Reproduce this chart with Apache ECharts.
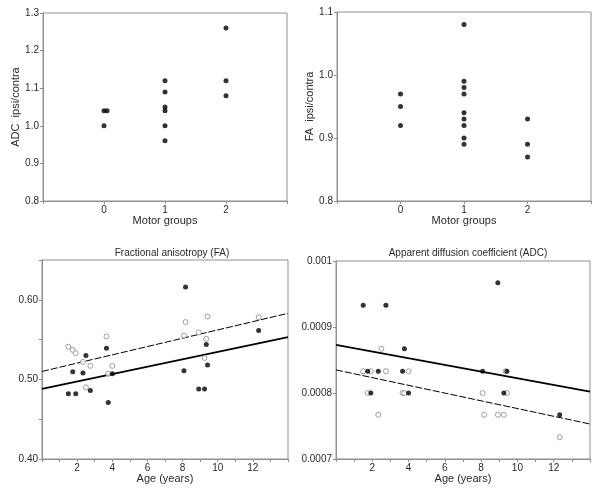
<!DOCTYPE html>
<html><head><meta charset="utf-8">
<script src="https://cdn.jsdelivr.net/npm/echarts@6/dist/echarts.min.js"></script>
<style>html,body{margin:0;padding:0;background:#fff}#c{width:600px;height:492px}</style>
</head><body><div id="c"></div>
<script>
// ---- Data ----
// Top-left: ADC ipsi/contra by motor group
const adcGroup0 = [1.04, 1.04, 1.00];
const adcGroup0Jitter = [0, 0.05, 0];
const adcGroup1 = [1.12, 1.09, 1.05, 1.04, 1.00, 0.96];
const adcGroup2 = [1.26, 1.12, 1.08];
// Top-right: FA ipsi/contra by motor group
const faGroup0 = [0.97, 0.95, 0.92];
const faGroup1 = [1.08, 0.99, 0.98, 0.97, 0.94, 0.93, 0.92, 0.90, 0.89];
const faGroup2 = [0.93, 0.89, 0.87];
const motorTicks = [0, 1, 2];

// Bottom: values vs age
const ages = [1.5, 1.75, 1.92, 2.33, 2.5, 2.75, 3.67, 3.77, 4.0, 8.08, 8.17, 8.92, 9.25, 9.35, 9.42, 12.33];
const faFilled = [0.482, 0.5095, 0.482, 0.508, 0.530, 0.486, 0.539, 0.471, 0.507, 0.511, 0.616, 0.488, 0.488, 0.544, 0.518, 0.5615];
const faOpen   = [0.541, 0.537, 0.533, 0.522, 0.490, 0.517, 0.554, 0.507, 0.517, 0.555, 0.572, 0.559, 0.527, 0.551, 0.579, 0.578];
const adcFilled = [0.000933, 0.000833, 0.0008, 0.000833, null, 0.000933, 0.000833, 0.000867, 0.0008, 0.000833, null, 0.000967, 0.0008, null, 0.000833, 0.000767];
const adcOpen   = [0.000833, 0.0008, 0.000833, 0.000767, 0.000867, 0.000833, 0.0008, 0.0008, 0.000833, 0.0008, 0.000767, 0.000767, 0.000767, 0.000833, 0.0008, 0.000733];
// Regression lines: [x, y] endpoints
const lineX = [0, 14];
const faFitFilled = [0.488, 0.553];
const faFitOpen   = [0.510, 0.583];
const adcFitFilled = [0.000873, 0.000802];
const adcFitOpen   = [0.000835, 0.000753];
const ageTicks = [2, 4, 6, 8, 10, 12];

// ---- Styles ----
const FONT = 'Liberation Sans';
const AX = '#909090';
const LBL = '#2a2a2a';

function xMotor(gi) {
  return {
    type: 'value', gridIndex: gi, min: -1, max: 3, interval: 1,
    name: 'Motor groups', nameLocation: 'middle', nameGap: 14,
    nameTextStyle: { fontFamily: FONT, fontSize: 11, color: LBL },
    axisLine: { onZero: false, lineStyle: { color: AX } },
    axisTick: { length: 3, lineStyle: { color: AX } },
    axisLabel: { fontFamily: FONT, fontSize: 10, color: LBL, margin: 4,
      formatter: v => motorTicks.indexOf(v) >= 0 ? String(v) : '' },
    splitLine: { show: false }
  };
}
function xAge(gi) {
  return {
    type: 'value', gridIndex: gi, min: 0, max: 14, interval: 1,
    name: 'Age (years)', nameLocation: 'middle', nameGap: 14,
    nameTextStyle: { fontFamily: FONT, fontSize: 11, color: LBL },
    axisLine: { onZero: false, lineStyle: { color: AX } },
    axisTick: { length: 3, lineStyle: { color: AX } },
    axisLabel: { fontFamily: FONT, fontSize: 10, color: LBL, margin: 4,
      formatter: v => ageTicks.indexOf(v) >= 0 ? String(v) : '' },
    splitLine: { show: false }
  };
}
function yAx(gi, min, max, interval, fmt, name) {
  const o = {
    type: 'value', gridIndex: gi, min: min, max: max, interval: interval,
    axisLine: { show: true, onZero: false, lineStyle: { color: AX } },
    axisTick: { show: true, length: 3, lineStyle: { color: AX } },
    axisLabel: { fontFamily: FONT, fontSize: 10, color: LBL, margin: 4, formatter: fmt },
    splitLine: { show: false }
  };
  if (name) {
    o.name = name; o.nameLocation = 'middle'; o.nameGap = 21;
    o.nameTextStyle = { fontFamily: FONT, fontSize: 11, color: LBL };
  }
  return o;
}
const filledStyle = { color: '#000' };
const openStyle = { color: '#fff', borderColor: '#8a8a8a', borderWidth: 1 };

function groupPts(vals, g, jitter) {
  return vals.map((v, i) => [g + (jitter ? jitter[i] : 0), v]);
}
function agePts(vals) {
  const out = [];
  vals.forEach((v, i) => { if (v != null) out.push([ages[i], v]); });
  return out;
}
function fit(ends) { return lineX.map((x, i) => [x, ends[i]]); }

function scatter(xi, data, style, size) {
  return { type: 'scatter', xAxisIndex: xi, yAxisIndex: xi, data: data, symbolSize: size || 5,
    itemStyle: style, silent: true, z: 3 };
}
function line(xi, data, dashed) {
  return { type: 'line', xAxisIndex: xi, yAxisIndex: xi, data: data, symbol: 'none', silent: true,
    lineStyle: { color: '#000', width: dashed ? 1 : 1.8, type: dashed ? [7, 2] : 'solid' }, z: 2 };
}

const fmt1 = v => { const r = Math.round(v * 10) / 10; return r.toFixed(1); };
const fmt2 = v => {
  const r = Math.round(v * 100) / 100;
  return (Math.abs(Math.round(v * 10) - v * 10) < 1e-6) ? r.toFixed(2) : '';
};
const fmtAdc = v => String(parseFloat(v.toFixed(4)));

const chart = echarts.init(document.getElementById('c'), null, { renderer: 'canvas' });
chart.setOption({
  animation: false,
  backgroundColor: '#fff',
  title: [
    { text: 'Fractional anisotropy (FA)', left: 167, top: 243, textAlign: 'center',
      textStyle: { fontFamily: FONT, fontSize: 10, fontWeight: 'normal', color: LBL } },
    { text: 'Apparent diffusion coefficient (ADC)', left: 463, top: 243, textAlign: 'center',
      textStyle: { fontFamily: FONT, fontSize: 10, fontWeight: 'normal', color: LBL } }
  ],
  grid: [
    { left: 43, top: 13, width: 244, height: 188, show: true, borderColor: AX, borderWidth: 1, backgroundColor: 'transparent' },
    { left: 337, top: 12, width: 254, height: 189, show: true, borderColor: AX, borderWidth: 1, backgroundColor: 'transparent' },
    { left: 42, top: 260, width: 246, height: 199, show: true, borderColor: AX, borderWidth: 1, backgroundColor: 'transparent' },
    { left: 336, top: 261, width: 254, height: 198, show: true, borderColor: AX, borderWidth: 1, backgroundColor: 'transparent' }
  ],
  xAxis: [xMotor(0), xMotor(1), xAge(2), xAge(3)],
  yAxis: [
    yAx(0, 0.8, 1.3, 0.1, fmt1, 'ADC  ipsi/contra'),
    yAx(1, 0.8, 1.1, 0.1, fmt1, 'FA  ipsi/contra'),
    yAx(2, 0.40, 0.65, 0.05, fmt2),
    yAx(3, 0.0007, 0.001, 0.0001, fmtAdc)
  ],
  series: [
    scatter(0, groupPts(adcGroup0, 0, adcGroup0Jitter), filledStyle),
    scatter(0, groupPts(adcGroup1, 1), filledStyle),
    scatter(0, groupPts(adcGroup2, 2), filledStyle),
    scatter(1, groupPts(faGroup0, 0), filledStyle),
    scatter(1, groupPts(faGroup1, 1), filledStyle),
    scatter(1, groupPts(faGroup2, 2), filledStyle),
    line(2, fit(faFitOpen), true),
    line(2, fit(faFitFilled), false),
    scatter(2, agePts(faOpen), openStyle),
    scatter(2, agePts(faFilled), filledStyle),
    line(3, fit(adcFitOpen), true),
    line(3, fit(adcFitFilled), false),
    scatter(3, agePts(adcOpen), openStyle),
    scatter(3, agePts(adcFilled), filledStyle)
  ]
});
</script>
</body></html>
